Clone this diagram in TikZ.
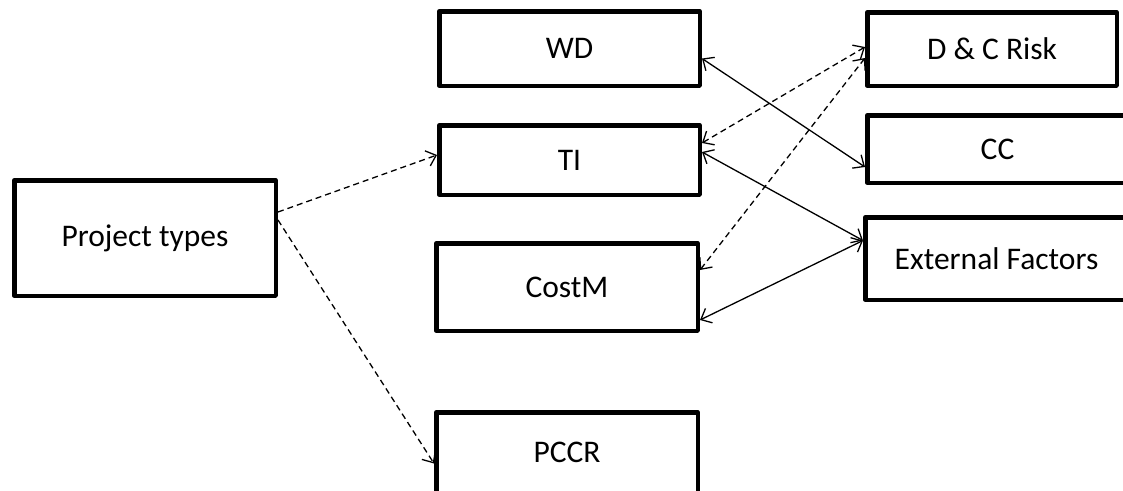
\documentclass[tikz,border=0pt]{standalone}
\usepackage{fontspec}
\setmainfont{Carlito}
\usetikzlibrary{arrows.meta,positioning}

\begin{document}
\begin{tikzpicture}[x=1pt,y=-1pt,
  box/.style={draw,line width=4.5pt,line join=round,inner sep=0pt,
    font=\fontsize{31.5}{38}\selectfont},
  link/.style={line width=1.3pt,{Straight Barb[length=9pt,width=16pt]}-{Straight Barb[length=9pt,width=16pt]}},
  feed/.style={line width=1.3pt,dash pattern=on 6pt off 4pt,-{Straight Barb[length=9pt,width=16pt]}}]
\useasboundingbox (0,0) rectangle (1123,490);
% left and middle column
\node[box,minimum width=261.5pt,minimum height=115.5pt] (proj)  at (145,238)   {Project types};
\node[box,minimum width=260.5pt,minimum height=74.5pt]  (wd)    at (569.5,48.5) {WD};
\node[box,minimum width=260.5pt,minimum height=69.5pt]  (ti)    at (569.5,160) {TI};
\node[box,minimum width=261.5pt,minimum height=87.5pt]  (costm) at (567,287)   {CostM};
\node[box,minimum width=261.5pt,minimum height=80.5pt]  (pccr)  at (567,452.5) {PCCR};
% right column
\node[box,minimum width=249.5pt,minimum height=73.5pt]  (dcr)   at (992,49)    {D \& C Risk};
\node[box,minimum width=260.5pt,minimum height=67.5pt]  (cc)    at (997.5,149) {CC};
\node[box,minimum width=262.5pt,minimum height=82.5pt]  (ext)   at (996.5,258.5) {External Factors};
% connectors
\draw[feed] ([yshift=26pt]proj.east) -- ([yshift=5pt]ti.west);
\draw[feed] ([yshift=18pt]proj.east) -- ([yshift=-11pt]pccr.west);
\draw[link] ([yshift=-10pt]wd.east) -- ([yshift=-18pt]cc.west);
\draw[link,dash pattern=on 6pt off 4pt] ([yshift=17pt]ti.east) -- ([yshift=2pt]dcr.west);
\draw[link,dash pattern=on 6pt off 4pt] ([yshift=17pt]costm.east) -- ([yshift=-9pt]dcr.west);
\draw[link] ([yshift=8pt]ti.east) -- ([yshift=18pt]ext.west);
\draw[link] ([yshift=-33pt]costm.east) -- ([yshift=18pt]ext.west);
\end{tikzpicture}
\end{document}
